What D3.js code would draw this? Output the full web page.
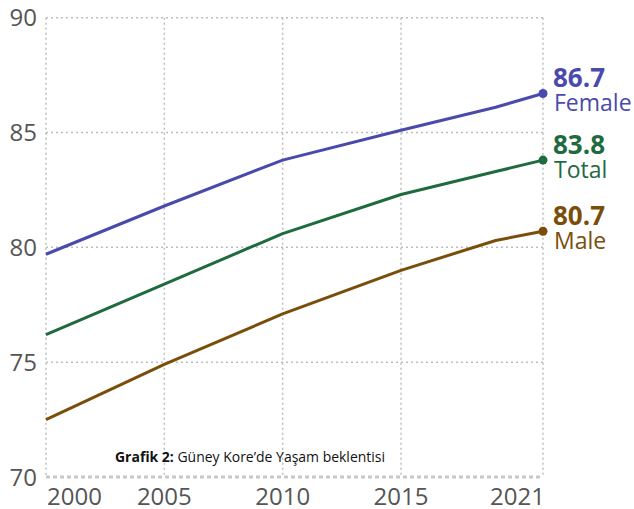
<!DOCTYPE html>
<html><head><meta charset="utf-8">
<script src="https://cdn.jsdelivr.net/npm/d3@7"></script>
<style>
body{margin:0;background:#fff;}
svg{display:block;font-family:"Open Sans",sans-serif;}
</style></head>
<body><svg id="c" width="634" height="509"></svg>
<script>
const years = [2000, 2005, 2010, 2015, 2019, 2021];
const female = [79.7, 81.8, 83.8, 85.1, 86.1, 86.7];
const total  = [76.2, 78.4, 80.6, 82.3, 83.3, 83.8];
const male   = [72.5, 74.9, 77.1, 79.0, 80.3, 80.7];
const seriesNames = ["Female", "Total", "Male"];
const seriesColors = ["#4a4aad", "#1f6a3f", "#7a4e0a"];
const xTicks = [2000, 2005, 2010, 2015, 2021];
const yTicks = [70, 75, 80, 85, 90];
const caption = ["Grafik 2:", " Güney Kore’de Yaşam beklentisi"];

const series = [female, total, male].map((v, i) => ({
  name: seriesNames[i], color: seriesColors[i],
  values: v.map((d, j) => ({year: years[j], value: d}))
}));

const svg = d3.select("#c");
const x = d3.scaleLinear().domain([2000, 2021]).range([46, 543]);
const y = d3.scaleLinear().domain([70, 90]).range([477, 17.7]);

// grid
const g = svg.append("g");
g.selectAll(".vg").data(xTicks).join("line")
  .attr("x1", d => x(d)).attr("x2", d => x(d))
  .attr("y1", y(90)).attr("y2", y(70))
  .attr("stroke", "#bdbdbd").attr("stroke-width", 1.5).attr("stroke-dasharray", "2,3");
g.selectAll(".hg").data(yTicks.filter(d => d !== 70)).join("line")
  .attr("x1", x(2000)).attr("x2", x(2021))
  .attr("y1", d => y(d)).attr("y2", d => y(d))
  .attr("stroke", "#bdbdbd").attr("stroke-width", 1.5).attr("stroke-dasharray", "2,3");
g.append("line")
  .attr("x1", x(2000)).attr("x2", x(2021))
  .attr("y1", y(70)).attr("y2", y(70))
  .attr("stroke", "#c8c8c8").attr("stroke-width", 3).attr("stroke-dasharray", "4,3");

// y tick labels
svg.append("g").selectAll("text").data(yTicks).join("text")
  .attr("x", 37).attr("y", d => y(d)).attr("dy", "0.36em")
  .attr("text-anchor", "end").attr("font-size", 24).attr("fill", "#555")
  .text(d => d);

// x tick labels
svg.append("g").selectAll("text").data(xTicks).join("text")
  .attr("x", d => x(d) + (d === 2000 ? 1 : d === 2021 ? 2 : 0))
  .attr("y", 505)
  .attr("text-anchor", d => d === 2000 ? "start" : d === 2021 ? "end" : "middle")
  .attr("font-size", 24).attr("fill", "#555")
  .text(d => d);

// lines
const line = d3.line().x(d => x(d.year)).y(d => y(d.value));
svg.append("g").selectAll("path").data(series).join("path")
  .attr("d", d => line(d.values))
  .attr("fill", "none").attr("stroke", d => d.color)
  .attr("stroke-width", 3).attr("stroke-linejoin", "round");

// end dots and labels
const ends = series.map(s => ({...s, last: s.values[s.values.length - 1]}));
svg.append("g").selectAll("circle").data(ends).join("circle")
  .attr("cx", d => x(d.last.year)).attr("cy", d => y(d.last.value))
  .attr("r", 4.5).attr("fill", d => d.color);
svg.append("g").selectAll("text").data(ends).join("text")
  .attr("x", d => x(d.last.year) + 10).attr("y", d => y(d.last.value) - 6)
  .attr("font-size", 26).attr("font-weight", "bold").attr("fill", d => d.color)
  .text(d => d.last.value.toFixed(1));
svg.append("g").selectAll("text").data(ends).join("text")
  .attr("x", d => x(d.last.year) + 11).attr("y", d => y(d.last.value) + 18)
  .attr("font-size", 23).attr("fill", d => d.color)
  .text(d => d.name);

// caption
const cap = svg.append("text").attr("x", 115).attr("y", 462)
  .attr("font-size", 14).attr("fill", "#111")
  .attr("font-family", "'Open Sans', sans-serif")
  .attr("textLength", 270).attr("lengthAdjust", "spacingAndGlyphs");
cap.append("tspan").attr("font-weight", "bold").text(caption[0]);
cap.append("tspan").text(caption[1]);
</script></body></html>
